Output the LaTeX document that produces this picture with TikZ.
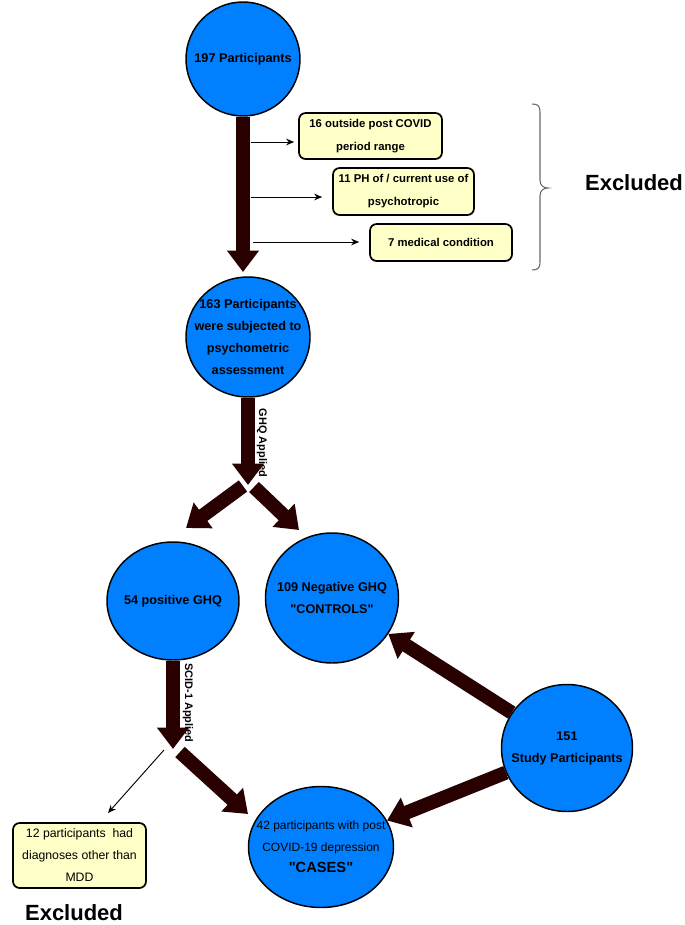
\documentclass[tikz,border=0pt]{standalone}
\usepackage{fontspec}
\setmainfont{Liberation Sans}[Ligatures=TeXOff]
\usetikzlibrary{arrows.meta,shapes.geometric}
\definecolor{cblue}{RGB}{0,128,255}
\definecolor{darr}{RGB}{40,0,0}
\definecolor{byel}{RGB}{255,255,200}
\definecolor{brgray}{RGB}{105,105,105}
\begin{document}
\begin{tikzpicture}[x=0.75pt,y=-0.75pt,
  circ/.style={ellipse,draw=black,line width=1.1pt,fill=cblue,inner sep=-40pt,align=center,
    font=\bfseries\fontsize{9.5}{16.5}\selectfont},
  exbox/.style={rectangle,draw=black,line width=1.3pt,rounded corners=5pt,fill=byel,align=center,inner sep=0pt,
    font=\bfseries\fontsize{8.5}{17.25}\selectfont},
  bigarrow/.style={draw=darr,line width=10.5pt,-{Triangle[width=23pt,length=16pt]}},
  thinarrow/.style={draw=black,line width=0.7pt,-{Stealth[length=6pt,width=5pt]}},
  exlabel/.style={font=\bfseries\fontsize{16.5}{20}\selectfont,inner sep=0pt},
  rotlabel/.style={rotate=-90,font=\bfseries\fontsize{8.2}{10}\selectfont,inner sep=0pt},
  bracepath/.style={draw=brgray,line width=0.8pt}
]
\useasboundingbox (0,0) rectangle (685,925);

% circles
\node[circ,minimum width=85.5pt,minimum height=85.5pt] (c1) at (243,59) {197 Participants};
\node[circ,minimum width=93pt,minimum height=90pt] (c2) at (248,337)
  {163 Participants\\were subjected to\\psychometric\\assessment};
\node[circ,minimum width=99pt,minimum height=88.5pt] (c3) at (173,601) {54 positive GHQ};
\node[circ,minimum width=99.75pt,minimum height=97.5pt] (c4) at (332,598) {109 Negative GHQ\\"CONTROLS"};
\node[circ,minimum width=98.25pt,minimum height=95.25pt] (c5) at (567,748) {151\\Study Participants};
\node[circ,minimum width=108.75pt,minimum height=90.75pt,font=\mdseries\fontsize{9}{16.2}\selectfont] (c6) at (321,847)
  {42 participants with post\\COVID-19 depression\\{\bfseries\fontsize{11}{16}\selectfont "CASES"}};

% exclusion boxes
\node[exbox,minimum width=107.25pt,minimum height=34.5pt] (b1) at (370.5,136) {16 outside post COVID\\period range};
\node[exbox,minimum width=105.75pt,minimum height=35.25pt] (b2) at (403.5,191.5) {11 PH of / current use of\\psychotropic};
\node[exbox,minimum width=106.5pt,minimum height=27.75pt] (b3) at (441,242.5) {7 medical condition};
\node[exbox,minimum width=99.75pt,minimum height=48.75pt,font=\mdseries\fontsize{9.2}{16.5}\selectfont] (b4) at (79.5,855.5)
  {12 participants\ \ had\\diagnoses other than\\MDD};

% labels
\node[exlabel] (ex1) at (634,183) {Excluded};
\node[exlabel] (ex2) at (74,913) {Excluded};
\node[rotlabel] (ghq) at (262,443) {GHQ Applied};
\node[rotlabel] (scid) at (188,703) {SCID-1 Applied};

% coordinates
\coordinate (a1tip) at (243,272);
\coordinate (a2tip) at (248,485);
\coordinate (splitL) at (243,486);
\coordinate (splitR) at (254,487);
\coordinate (tipL) at (186,528);
\coordinate (tipR) at (299,530);
\coordinate (a4tip) at (173,749);
\coordinate (s4a) at (180,752);
\coordinate (tip6) at (248,814);
\coordinate (s4b) at (164,750);
\coordinate (tip4) at (108,813);
\coordinate (s1) at (251,142);
\coordinate (s2) at (251,197);
\coordinate (s3) at (253,242);

% thick arrows
\draw[bigarrow] (c1.south) -- (a1tip);
\draw[bigarrow] (c2.south) -- (a2tip);
\draw[bigarrow] (splitL) -- (tipL);
\draw[bigarrow] (splitR) -- (tipR);
\draw[bigarrow] (c3.south) -- (a4tip);
\draw[bigarrow] (s4a) -- (tip6);
\draw[bigarrow] (c5) -- (c4);
\draw[bigarrow] (c5) -- (c6);

% thin arrows
\draw[thinarrow,shorten >=3pt] (s1) -- (s1 -| b1.west);
\draw[thinarrow,shorten >=7.5pt] (s2) -- (s2 -| b2.west);
\draw[thinarrow,shorten >=7.5pt] (s3) -- (s3 -| b3.west);
\draw[thinarrow] (s4b) -- (tip4);

% brace
\draw[bracepath] (532,104) .. controls (538,104) and (540,106) .. (540,112) -- (540,180)
  .. controls (540,186) and (544,188) .. (548,188)
  .. controls (544,188) and (540,190) .. (540,196) -- (540,262)
  .. controls (540,268) and (538,270) .. (532,270);
\end{tikzpicture}
\end{document}
